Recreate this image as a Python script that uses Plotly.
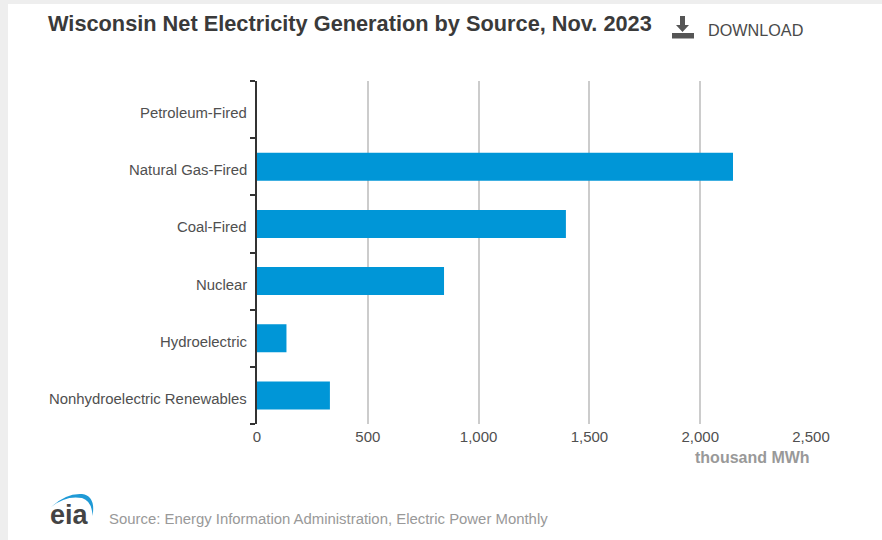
import plotly.graph_objects as go

# Net generation by source, thousand MWh
sources = ["Nonhydroelectric Renewables", "Hydroelectric", "Nuclear", "Coal-Fired", "Natural Gas-Fired", "Petroleum-Fired"]
generation = [329, 133, 844, 1394, 2148, 0]
x_ticks = [0, 500, 1000, 1500, 2000, 2500]
x_labels = ["0", "500", "1,000", "1,500", "2,000", "2,500"]
band_edges = [-0.5, 0.5, 1.5, 2.5, 3.5, 4.5, 5.5]

W, H = 882, 540
L, R, T, B = 257, 811, 81, 424
FONT = "Liberation Sans"


def px(x):
    return x / W


def py(y):
    return 1 - y / H


fig = go.Figure(go.Bar(
    y=list(range(len(sources))), x=generation, orientation="h",
    marker=dict(color="#0096d7", line=dict(width=0)),
    width=0.49, customdata=sources, hovertemplate="%{customdata}: %{x}<extra></extra>",
))

shapes = []
# page background strips around the white card
shapes.append(dict(type="rect", xref="paper", yref="paper", x0=px(0), x1=px(8), y0=0, y1=1,
                   fillcolor="#eeeeee", line_width=0, layer="below"))
shapes.append(dict(type="rect", xref="paper", yref="paper", x0=0, x1=1, y0=py(4), y1=1,
                   fillcolor="#eeeeee", line_width=0, layer="below"))
# download icon
shapes.append(dict(type="path", xref="paper", yref="paper", line_width=0, fillcolor="#555555",
                   path=f"M {px(680)} {py(16)} L {px(685)} {py(16)} L {px(685)} {py(25)} L {px(689)} {py(25)} "
                        f"L {px(682.5)} {py(32)} L {px(676)} {py(25)} L {px(680)} {py(25)} Z"))
shapes.append(dict(type="rect", xref="paper", yref="paper", line_width=0, fillcolor="#555555",
                   x0=px(672), x1=px(694), y0=py(38.5), y1=py(33)))
# logo arc
shapes.append(dict(type="path", xref="paper", yref="paper", line_width=0, fillcolor="#1f9ad6",
                   path=f"M {px(51)} {py(507)} Q {px(66)} {py(493)} {px(82)} {py(494)} "
                        f"Q {px(96)} {py(496)} {px(92.5)} {py(516)} Q {px(92)} {py(501)} {px(82)} {py(498)} "
                        f"Q {px(66)} {py(495)} {px(51)} {py(507)} Z"))

annotations = [
    dict(text="<b>Wisconsin Net Electricity Generation by Source, Nov. 2023</b>", x=px(45.5), y=py(24),
         font=dict(family=FONT, size=21.75, color="#3a3a3a"), xanchor="left"),
    dict(text="DOWNLOAD", x=px(706), y=py(30), font=dict(family=FONT, size=16.2, color="#4a4a4a"), xanchor="left"),
    dict(text="<b>thousand MWh</b>", x=px(812), y=py(457), font=dict(family=FONT, size=16, color="#999999"), xanchor="right"),
    dict(text="Source: Energy Information Administration, Electric Power Monthly", x=px(107), y=py(519),
         font=dict(family=FONT, size=14.9, color="#999999"), xanchor="left"),
    dict(text="<b>eia</b>", x=px(48), y=py(515), font=dict(family=FONT, size=27, color="#444444"), xanchor="left"),
]
for a in annotations:
    a.update(xref="paper", yref="paper", showarrow=False, yanchor="middle")

# category labels sit slightly below the bar centres
for i, name in enumerate(sources):
    annotations.append(dict(text=name, xref="paper", yref="y", x=px(249), y=i, yshift=-3.5,
                            xanchor="right", yanchor="middle", showarrow=False,
                            font=dict(family=FONT, size=14.9, color="#505050")))

fig.update_layout(
    width=W, height=H, margin=dict(l=0, r=0, t=0, b=0, autoexpand=False),
    paper_bgcolor="white", plot_bgcolor="white", showlegend=False,
    shapes=shapes, annotations=annotations,
    font=dict(family=FONT, size=15, color="#505050"),
    xaxis=dict(domain=[px(L), px(R)], range=[0, 2500], tickvals=x_ticks, ticktext=x_labels,
               showgrid=True, gridcolor="#cccccc", gridwidth=1.5, zeroline=False, ticks="",
               showline=False, tickfont=dict(family=FONT, size=15, color="#505050"), ticklabelstandoff=2),
    yaxis=dict(domain=[py(B), py(T)], range=[-0.5, 5.5], tickvals=[], showticklabels=False,
               showline=True, linecolor="#333333", linewidth=1.5, ticks="", showgrid=False, zeroline=False,
               minor=dict(tickvals=band_edges, ticks="outside", ticklen=5, tickwidth=1.5, tickcolor="#333333",
                          showgrid=False)),
)
fig.write_html("out.html")
